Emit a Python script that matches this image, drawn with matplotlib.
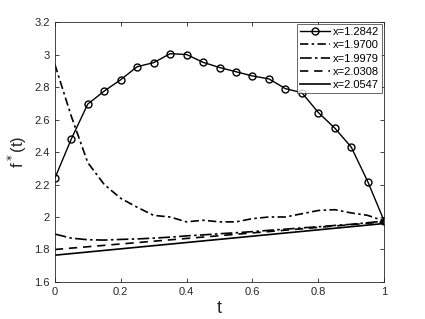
import matplotlib
matplotlib.use("Agg")
import matplotlib.pyplot as plt

# time grid of the sampled curves
t = [0.0, 0.05, 0.1, 0.15, 0.2, 0.25, 0.3, 0.35, 0.4, 0.45, 0.5,
     0.55, 0.6, 0.65, 0.7, 0.75, 0.8, 0.85, 0.9, 0.95, 1.0]

f1 = [2.238, 2.48, 2.695, 2.775, 2.845, 2.925, 2.95, 3.005, 3.0, 2.952, 2.92,
      2.894, 2.868, 2.85, 2.79, 2.765, 2.643, 2.547, 2.43, 2.218, 1.975]
f2 = [2.94, 2.62, 2.335, 2.2, 2.115, 2.06, 2.01, 2.0, 1.97, 1.98, 1.97,
      1.97, 1.99, 2.0, 2.0, 2.02, 2.04, 2.045, 2.025, 2.01, 1.975]
f3 = [1.895, 1.87, 1.86, 1.858, 1.862, 1.865, 1.87, 1.876, 1.884, 1.89, 1.897,
      1.903, 1.91, 1.918, 1.925, 1.933, 1.94, 1.948, 1.955, 1.965, 1.975]
t_lin = [0.0, 1.0]
f4 = [1.80, 1.97]
f5 = [1.765, 1.96]

labels = ['x=1.2842', 'x=1.9700', 'x=1.9979', 'x=2.0308', 'x=2.0547']

plt.rcParams['font.family'] = ['Liberation Sans', 'DejaVu Sans']

fig = plt.figure(figsize=(4.25, 3.19), dpi=100)
ax = fig.add_axes([0.129, 0.116, 0.775, 0.815])

ax.plot(t, f1, '-', color='k', lw=1, marker='o', ms=5, mfc='none', mew=1, label=labels[0])
ax.plot(t, f2, color='k', lw=1.2, dashes=(5, 2, 1.5, 2), label=labels[1])
ax.plot(t, f3, color='k', lw=1.2, dashes=(7, 2, 1.5, 2), label=labels[2])
ax.plot(t_lin, f4, color='k', lw=1.2, dashes=(5, 3.5), label=labels[3])
ax.plot(t_lin, f5, '-', color='k', lw=1.2, label=labels[4])

ax.set_xlim(0, 1)
ax.set_ylim(1.6, 3.2)
ax.set_xticks([0, 0.2, 0.4, 0.6, 0.8, 1])
ax.set_xticklabels(['0', '0.2', '0.4', '0.6', '0.8', '1'])
ax.set_yticks([1.6, 1.8, 2.0, 2.2, 2.4, 2.6, 2.8, 3.0, 3.2])
ax.set_yticklabels(['1.6', '1.8', '2', '2.2', '2.4', '2.6', '2.8', '3', '3.2'])
ax.tick_params(direction='in', length=3, width=0.6, labelsize=8, colors='#262626',
               top=True, right=True)
for s in ax.spines.values():
    s.set_color('#262626')
    s.set_linewidth(0.6)

ax.set_xlabel('t', fontsize=13, color='#262626', labelpad=2)
ax.set_ylabel('f$^*$(t)', fontsize=12, color='#262626', labelpad=4)

leg = ax.legend(loc='upper right', fontsize=8, frameon=True, fancybox=False,
                handlelength=2.7, handletextpad=0.3, borderpad=0.25,
                labelspacing=0.3, borderaxespad=0.2)
leg.get_frame().set_edgecolor('#262626')
leg.get_frame().set_linewidth(0.6)

fig.savefig('out.png', dpi=100)
